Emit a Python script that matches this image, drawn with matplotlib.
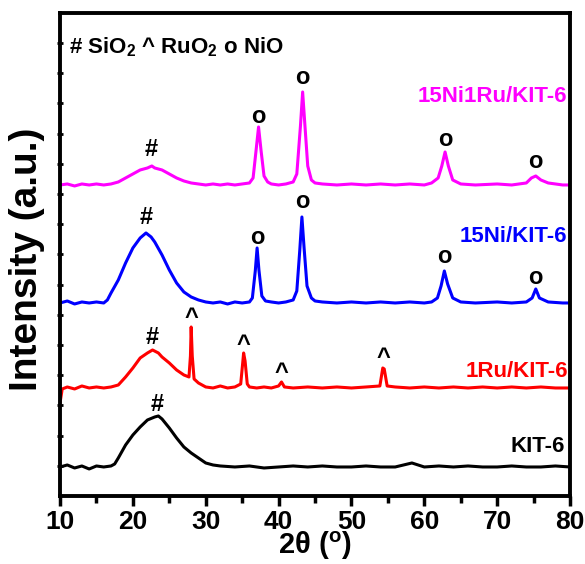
import numpy as np
import matplotlib.pyplot as plt

# XRD patterns, stacked (intensity already offset, arbitrary units)
two_theta_kit6 = [10, 11, 12, 13, 14, 15, 16, 17, 17.5, 18, 19, 20, 21, 22, 23, 23.5, 24, 25, 26, 27, 28, 29, 30,
                  31, 32, 34, 36, 38, 40, 42, 44, 46, 48, 50, 52, 54, 56, 58.3, 60, 62, 64, 66, 68, 70, 72, 74,
                  76, 78, 80]
int_kit6 = [29, 31, 28, 30, 27, 30, 29, 30, 32, 38, 51, 61, 69, 76, 79, 80, 77, 68, 58, 49, 43, 38, 33,
            31, 30, 29, 30, 28, 29, 30, 29, 30, 29, 29, 30, 29, 29, 33, 29, 30, 29, 30, 29, 29, 30, 29,
            29, 30, 29]

two_theta_ru = [10, 10.3, 11, 12, 13, 14, 15, 16, 17, 18, 19, 20, 21, 22, 22.7, 23.5, 24, 25, 26, 27, 27.7,
                27.9, 28.0, 28.15, 28.4, 29, 30, 31, 32, 33, 34, 34.8, 35.1, 35.2, 35.4, 35.7, 36, 37, 38,
                39, 40, 40.4, 40.8, 42, 44, 46, 48, 50, 52, 53.9, 54.3, 54.5, 54.9, 56, 58, 60, 62, 64, 66,
                68, 70, 72, 74, 76, 78, 80]
int_ru = [93, 107, 109, 107, 110, 108, 109, 108, 109, 111, 119, 128, 138, 143, 146, 143, 139, 133, 126, 121, 119,
          140, 169, 140, 117, 113, 109, 108, 110, 108, 109, 112, 135, 143, 135, 112, 109, 108, 109,
          108, 110, 114, 109, 108, 109, 108, 109, 108, 109, 110, 128, 127, 110, 109, 108, 109, 108, 109, 108,
          109, 108, 109, 108, 109, 108, 108]

two_theta_ni = [10, 11, 12, 13, 14, 15, 16, 16.5, 17, 18, 19, 20, 21, 21.8, 22.5, 23, 24, 25, 26, 27, 28, 29,
                30, 31, 32, 33, 34, 35, 36, 36.4, 36.8, 37.05, 37.3, 37.7, 38.2, 39, 40, 41, 42, 42.5, 42.9,
                43.2, 43.5, 43.9, 44.5, 45, 46, 48, 50, 52, 54, 56, 58, 60, 61, 61.8, 62.3, 62.75, 63.2, 63.9,
                65, 67, 70, 72, 74, 74.8, 75.3, 75.8, 77, 79, 80]
int_ni = [193, 195, 192, 194, 193, 194, 193, 196, 203, 216, 233, 248, 258, 263, 259, 254, 241, 226, 213, 204, 199, 196,
          194, 193, 194, 192, 194, 193, 194, 198, 225, 248, 226, 200, 195, 194, 193, 194, 196, 205, 245,
          279, 248, 210, 198, 195, 194, 193, 194, 193, 194, 193, 194, 193, 194, 198, 210, 225, 212, 198,
          194, 193, 194, 193, 194, 198, 207, 198, 194, 193, 193]

two_theta_niru = [10, 11, 12, 13, 14, 15, 16, 17, 18, 19, 20, 21, 22, 22.6, 23, 24, 25, 26, 27, 28, 29, 30, 31,
                  32, 33, 34, 35, 36, 36.5, 36.9, 37.25, 37.6, 38, 38.5, 39, 40, 41, 42, 42.5, 43.0, 43.3, 43.6,
                  44.0, 44.5, 45, 46, 48, 50, 52, 54, 56, 58, 60, 61, 61.9, 62.4, 62.85, 63.3, 63.9, 65, 67,
                  70, 72, 74, 74.7, 75.3, 76, 77, 78, 79, 80]
int_niru = [311, 312, 310, 312, 311, 312, 311, 312, 314, 318, 322, 326, 328, 330, 328, 326, 322, 318, 315, 313, 312,
            311, 312, 311, 312, 311, 312, 313, 318, 345, 369, 345, 320, 314, 312, 311, 312, 314, 322, 370, 404,
            372, 330, 316, 313, 312, 311, 312, 311, 312, 311, 312, 311, 313, 318, 330, 344, 330, 316, 312,
            311, 312, 311, 313, 318, 320, 316, 313, 312, 311, 311]

# phase marks: (2theta, height, symbol)
marks_kit6 = [(23.3, 91, '#')]
marks_ru = [(22.7, 158, '#'), (28.0, 178, '^'), (35.2, 151, '^'), (40.4, 123, '^'), (54.4, 138, '^')]
marks_ni = [(21.8, 278, '#'), (37.1, 258, 'o'), (43.2, 294, 'o'), (62.8, 239, 'o'), (75.3, 218, 'o')]
marks_niru = [(22.5, 346, '#'), (37.2, 379, 'o'), (43.3, 418, 'o'), (62.9, 356, 'o'), (75.3, 334, 'o')]

plt.rcParams['font.family'] = ['Liberation Sans', 'DejaVu Sans']
plt.rcParams['font.weight'] = 'bold'
plt.rcParams['mathtext.default'] = 'regular'

fig = plt.figure(figsize=(5.85, 5.64), dpi=100)
ax = fig.add_axes([0.1026, 0.1206, 0.8718, 0.8564])

ax.plot(two_theta_kit6, int_kit6, color='black', lw=2.2)
ax.plot(two_theta_ru, int_ru, color='#ff0000', lw=2.2)
ax.plot(two_theta_ni, int_ni, color='#0000ff', lw=2.2)
ax.plot(two_theta_niru, int_niru, color='#ff00ff', lw=2.2)

for marks in [marks_kit6, marks_ru, marks_ni, marks_niru]:
    for x, y, s in marks:
        ax.text(x, y, s, ha='center', va='center', fontsize=17, fontweight='bold', color='black')

ax.text(79.6, 399, '15Ni1Ru/KIT-6', color='#ff00ff', ha='right', va='center', fontsize=16, fontweight='bold')
ax.text(79.6, 259, '15Ni/KIT-6', color='#0000ff', ha='right', va='center', fontsize=16, fontweight='bold')
ax.text(79.8, 124, '1Ru/KIT-6', color='#ff0000', ha='right', va='center', fontsize=16, fontweight='bold')
ax.text(79.3, 49, 'KIT-6', color='black', ha='right', va='center', fontsize=16, fontweight='bold')

ax.text(11.3, 449, '# SiO$_2$ ^ RuO$_2$ o NiO', ha='left', va='center', fontsize=16, fontweight='bold')

ax.set_xlim(10, 80)
ax.set_ylim(0, 483)
ax.set_xticks(np.arange(10, 81, 10))
ax.set_xticks(np.arange(15, 80, 10), minor=True)
ax.set_yticks(np.arange(30.2, 483, 30.2))
ax.set_yticklabels([])
ax.tick_params(axis='x', which='major', direction='out', length=7, width=2.5, labelsize=19, pad=3)
ax.tick_params(axis='x', which='minor', direction='out', length=5, width=2.5)
ax.tick_params(axis='y', direction='inout', length=5, width=2)
for lab in ax.get_xticklabels():
    lab.set_fontweight('bold')
for sp in ax.spines.values():
    sp.set_linewidth(2.8)

ax.set_xlabel('2$\\theta$ ($^o$)', fontsize=21, fontweight='bold', labelpad=-3)
ax.set_ylabel('Intensity (a.u.)', fontsize=28, fontweight='bold')
ax.yaxis.set_label_coords(-0.03, 0.489)

fig.savefig('out.png', dpi=100)
